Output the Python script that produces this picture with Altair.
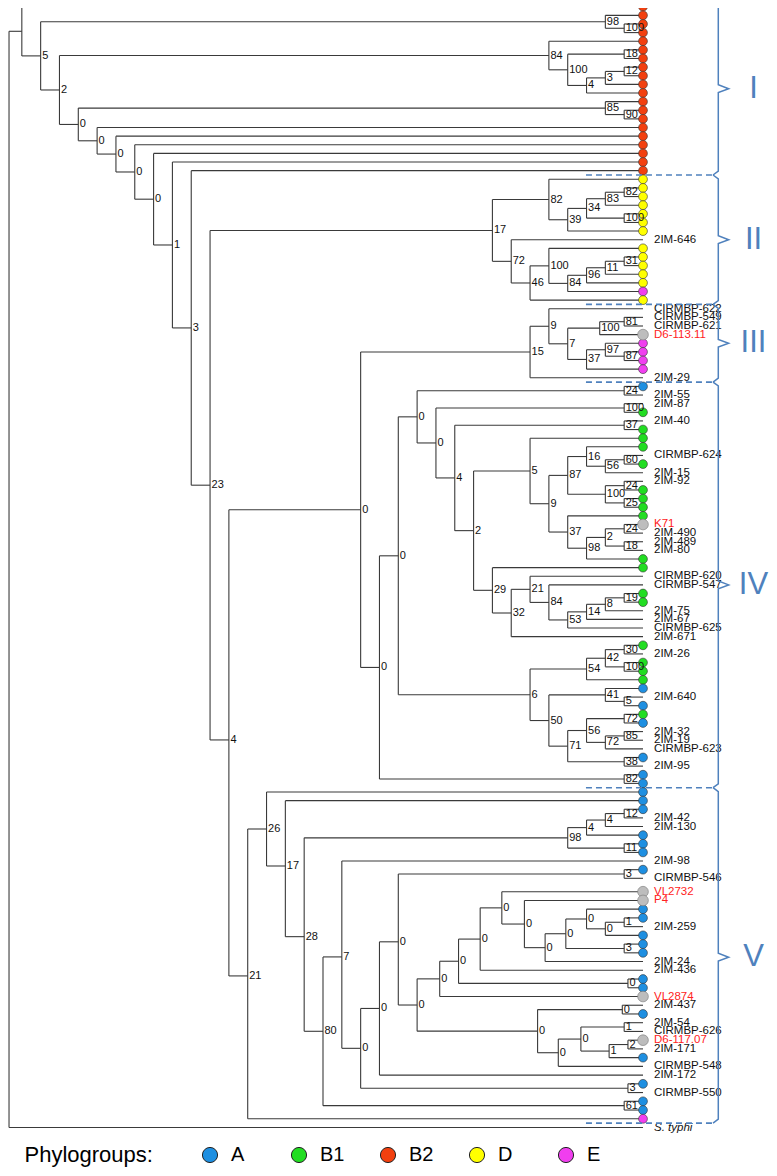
import altair as alt
import pandas as pd

# ---------------- data ----------------
GROUPS = ["A", "B1", "B2", "D", "E"]
GROUP_FILL = ["#1E8FE1", "#22DD22", "#F2400F", "#FFFF00", "#F03EEF"]

# Newick-like topology: leaf tokens  A/B1/B2/D/E = phylogroup circle,
# "#name" = labelled strain, "G#name" = untyped strain (grey) ; internal nodes ")bootstrap@depth"
I_N98 = "(B2,(B2,B2)100@33)98@32"
I_N84 = "(B2,((B2,B2)18@33,(((B2,B2)12@33,B2)3@32,B2)4@31)100@30)84@29"
I_N85 = "(B2,(B2,B2)90@33)85@32"

II_N82 = "(D,((((D,D)82@33,D)83@32,(D,D)100@33)34@31,D)39@30)82@29"
II_N72 = "(#2IM-646,((D,((((D,D)31@33,D)11@32,D)96@31,E)84@30)100@29,D)46@28)72@27"

III_N15 = ("((#CIRMBP-622,(((#CIRMBP-549,#CIRMBP-621)81@33,G#D6-113.11)100@31.7,"
           "((E,(E,E)87@33)97@32,E)37@31)7@30)9@29,#2IM-29)15@28")

IV_N56 = "((#CIRMBP-624,B1)60@33,#2IM-15)56@32"
IV_N100 = "((#2IM-92,B1)24@33,(B1,B1)25@33)100@32"
IV_N2C = "((G#K71,#2IM-490)24@33,(#2IM-489,#2IM-80)18@33)2@32"
IV_N53 = "((((B1,B1)19@33,#2IM-75)8@32,#2IM-67)14@31,#CIRMBP-625)53@30"
IV_N6 = ("((((B1,#2IM-26)30@33,(B1,B1)100@33)42@32,B1)54@31,((A,(#2IM-640,A)5@33)41@32,"
         "(((B1,A)72@33,((#2IM-32,#2IM-19)85@33,#CIRMBP-623)72@32)56@31,(A,#2IM-95)38@33)71@30)50@29)6@28")

V_N98 = "((((A,#2IM-42)12@33,#2IM-130)4@32,A)4@31,(A,A)11@33)98@30"
V_N540 = ("((#2IM-437,A)0@32.9,(((#2IM-54,#CIRMBP-626)1@33,((G#D6-117.07,#2IM-171)2@33.2,A)1@32.2)0@30.7,"
          "#CIRMBP-548)0@29.5)0@28.4")
V_LADDER_DEPTH = [32, 31, 29.9, 28.8, 27.7, 26.5, 25.35, 24.2, 23.2]
ROOT_DEPTH = 0.32


def build_tree():
    n16 = f"(B1,{IV_N56})16@31"
    n87 = f"({n16},{IV_N100})87@30"
    n37 = f"(B1,({IV_N2C},B1)98@31)37@30"
    n5 = f"(B1,({n87},{n37})9@29)5@28"
    n29 = f"(B1,((#CIRMBP-620,(#CIRMBP-547,{IV_N53})84@29)21@28,#2IM-671)32@27)29@26"
    n4 = f"((#2IM-40,B1)37@33,({n5},{n29})2@25)4@24"
    nq = f"((A,#2IM-55)24@33,((#2IM-87,B1)100@33,{n4})0@23)0@22"
    clade_iv = f"(({nq},{IV_N6})0@21,(A,A)82@33)0@20"
    node_x = f"({III_N15},{clade_iv})0@19"

    d = V_LADDER_DEPTH
    f0 = f"((A,#2IM-259)1@33,A)0@{d[0]}"
    e0 = f"(A,{f0})0@{d[1]}"
    d0 = f"({e0},(A,A)3@33)0@{d[2]}"
    c0 = f"({d0},#2IM-24)0@{d[3]}"
    b0 = f"(G#P4,{c0})0@{d[4]}"
    a0 = f"(G#VL2732,{b0})0@{d[5]}"
    g0 = f"({a0},#2IM-436)0@{d[6]}"
    h0 = f"({g0},(A,A)0@33.2)0@{d[7]}"
    i0 = f"({h0},G#VL2874)0@{d[8]}"
    j0 = f"({i0},{V_N540})0@22"
    l0 = f"((A,#CIRMBP-546)3@33,{j0})0@21"
    m0 = f"({l0},#2IM-172)0@20"
    n0 = f"({m0},(A,#CIRMBP-550)3@33.2)0@19"
    n7 = f"(#2IM-98,{n0})7@18"
    n80 = f"({n7},(A,A)61@33)80@17"
    n28 = f"({V_N98},{n80})28@16"
    clade_v = f"((A,(A,{n28})17@15)26@14,E)21@13"

    t = f"({node_x},{clade_v})4@12"
    t = f"(({II_N82},{II_N72})17@26,{t})23@11"
    for b, lv in [("3", 10), ("1", 9), ("0", 8), ("0", 7), ("0", 6), ("0", 5)]:
        t = f"(B2,{t}){b}@{lv}"
    t = f"({I_N85},{t})0@4"
    t = f"({I_N84},{t})2@3"
    t = f"({I_N98},{t})5@2"
    t = f"(B2,{t})@1"
    return f"({t},#S._typhi)@{ROOT_DEPTH}"


CLADES = ["I", "II", "III", "IV", "V"]
CLADE_FIRST = [0, 20, 35, 44, 91]
CLADE_LAST = [19, 34, 43, 90, 128]

# ---------------- layout ----------------
LEAF_DEPTH = 34


def parse(s):
    pos = 0

    def node():
        nonlocal pos
        if s[pos] == "(":
            pos += 1
            kids = [node()]
            while s[pos] == ",":
                pos += 1
                kids.append(node())
            pos += 1
            st = pos
            while pos < len(s) and s[pos] not in ",()":
                pos += 1
            boot, lv = s[st:pos].split("@")
            return {"kids": kids, "boot": boot, "level": float(lv)}
        st = pos
        while pos < len(s) and s[pos] not in ",()":
            pos += 1
        return {"leaf": s[st:pos]}

    return node()


tree = parse(build_tree())
leaves, segs, boots = [], [], []


def layout(n):
    if "leaf" in n:
        n["y"] = len(leaves)
        n["level"] = LEAF_DEPTH
        leaves.append(n)
        return
    for k in n["kids"]:
        layout(k)
    n["y"] = (n["kids"][0]["y"] + n["kids"][-1]["y"]) / 2
    segs.append(dict(x=n["level"], x2=n["level"], y=n["kids"][0]["y"], y2=n["kids"][-1]["y"]))
    for k in n["kids"]:
        segs.append(dict(x=n["level"], x2=k["level"], y=k["y"], y2=k["y"]))
    if n["boot"]:
        boots.append(dict(x=n["level"], y=n["y"], t=n["boot"]))


layout(tree)
assert len(leaves) == 130, len(leaves)

circ, grey, labs = [], [], []
for lf in leaves:
    tok = lf["leaf"]
    if tok in GROUPS:
        circ.append(dict(x=LEAF_DEPTH, y=lf["y"], g=tok))
    elif tok.startswith("G#"):
        grey.append(dict(x=LEAF_DEPTH, y=lf["y"]))
        labs.append(dict(x=LEAF_DEPTH, y=lf["y"], t=tok[2:], k="red"))
    else:
        name = tok[1:].replace("_", " ")
        labs.append(dict(x=LEAF_DEPTH, y=lf["y"], t=name,
                         k="italic" if name == "S. typhi" else "black"))

seg_df = pd.DataFrame(segs)
boot_df = pd.DataFrame(boots)
circ_df = pd.DataFrame(circ)
grey_df = pd.DataFrame(grey)
lab_df = pd.DataFrame(labs)

# clade brackets
bounds = sorted(set([f - 0.5 for f in CLADE_FIRST] + [l + 0.5 for l in CLADE_LAST]))
dash_df = pd.DataFrame([dict(x=30.97, x2=37.72, y=b) for b in bounds])
br_rows, num_rows = [], []
for c, f, l in zip(CLADES, CLADE_FIRST, CLADE_LAST):
    top, bot = f - 0.5, l + 0.5
    mid = (top + bot) / 2
    pts = [(37.72, top), (38.0, top + 0.45), (38.0, mid - 0.45), (38.55, mid),
           (38.0, mid + 0.45), (38.0, bot - 0.45), (37.72, bot)]
    for i, (px, py) in enumerate(pts):
        br_rows.append(dict(c=c, o=i, x=px, y=py))
    num_rows.append(dict(x=39.87, y=mid, t=c))
br_df = pd.DataFrame(br_rows)
num_df = pd.DataFrame(num_rows)

# ---------------- chart ----------------
M = 8
xs = alt.Scale(domain=[0, 34], range=[3 - M, 643 - M])
ys = alt.Scale(domain=[0, 101, 102, 129], range=[6.7 - M, 878.3 - M, 891.7 - M, 1127.5 - M])
X = alt.X("x:Q", scale=xs, axis=None)
Y = alt.Y("y:Q", scale=ys, axis=None)
FONT = "Liberation Sans"
BLUE = "#4F81BD"

lines = alt.Chart(seg_df).mark_rule(color="#3a3a3a", strokeWidth=1.1).encode(
    x=X, x2="x2:Q", y=Y, y2="y2:Q")

circles = alt.Chart(circ_df).mark_point(
    shape="circle", filled=True, size=78, stroke="#333333", strokeWidth=0.6, opacity=1
).encode(
    x=X, y=Y,
    fill=alt.Fill("g:N", scale=alt.Scale(domain=GROUPS, range=GROUP_FILL),
                  legend=alt.Legend(
                      orient="none", legendX=16.5, legendY=1137, direction="horizontal",
                      title="Phylogroups:", titleOrient="left", titleFontSize=22,
                      titleFont=FONT, titleFontWeight="normal", titleColor="black",
                      titlePadding=46.5, titleBaseline="middle",
                      labelFontSize=20, labelFont=FONT, labelColor="black",
                      labelOffset=11, symbolSize=230, symbolType="circle",
                      symbolStrokeColor="#222222", symbolStrokeWidth=1,
                      symbolOpacity=1, columnPadding=33, gridAlign="all", padding=0)))

greys = alt.Chart(grey_df).mark_point(
    shape="circle", filled=True, size=115, fill="#BDBDBD", stroke="#777777",
    strokeWidth=0.6, opacity=1).encode(x=X, y=Y)

boot_txt = alt.Chart(boot_df).mark_text(
    align="left", baseline="middle", dx=1.5, fontSize=11, font=FONT, color="#111111"
).encode(x=X, y=Y, text="t:N")


def leaf_layer(kind, color, style):
    return alt.Chart(lab_df).transform_filter(alt.datum.k == kind).mark_text(
        align="left", baseline="middle", dx=11, fontSize=11.5, font=FONT,
        color=color, fontStyle=style
    ).encode(x=X, y=Y, text="t:N")


leaf_black = leaf_layer("black", "#111111", "normal")
leaf_red = leaf_layer("red", "#FF2222", "normal")
leaf_it = leaf_layer("italic", "#111111", "italic")

dashes = alt.Chart(dash_df).mark_rule(color=BLUE, strokeWidth=1.6, strokeDash=[6, 4]).encode(
    x=X, x2="x2:Q", y=Y)

brackets = alt.Chart(br_df).mark_line(color=BLUE, strokeWidth=1.5).encode(
    x=X, y=Y, detail="c:N", order="o:Q")

numerals = alt.Chart(num_df).mark_text(
    align="center", baseline="middle", fontSize=31, font=FONT, color=BLUE
).encode(x=X, y=Y, text="t:N")

chart = alt.layer(lines, circles, greys, boot_txt, leaf_black, leaf_red, leaf_it,
                  dashes, brackets, numerals).properties(
    width=761, height=1160, padding=0, autosize=alt.AutoSizeParams(type="none")
).configure_view(strokeWidth=0)

chart.save("out.html", embed_options={"renderer": "svg", "actions": False})
